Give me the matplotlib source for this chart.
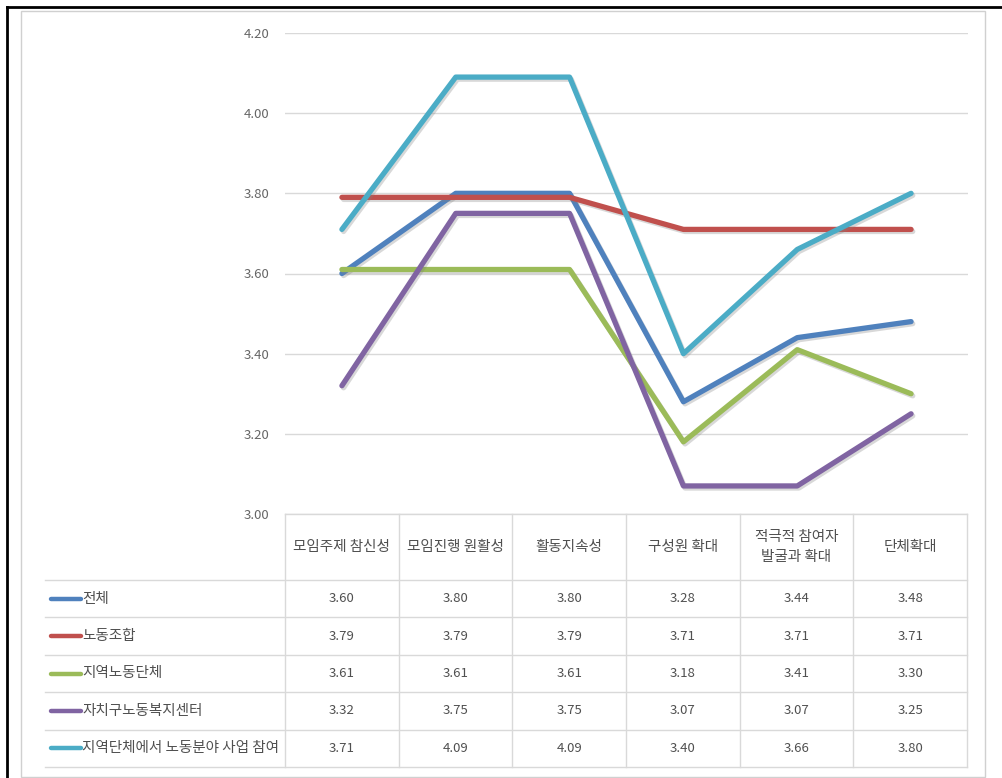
import matplotlib.pyplot as plt
import matplotlib.patheffects as pe

plt.rcParams['font.family'] = ['Noto Sans CJK KR', 'DejaVu Sans']

categories = ["모임주제 참신성", "모임진행 원활성", "활동지속성", "구성원 확대",
              "적극적 참여자\n발굴과 확대", "단체확대"]
series_names = ["전체", "노동조합", "지역노동단체", "자치구노동복지센터",
                "지역단체에서 노동분야 사업 참여"]
total = [3.60, 3.80, 3.80, 3.28, 3.44, 3.48]
union = [3.79, 3.79, 3.79, 3.71, 3.71, 3.71]
local_labor = [3.61, 3.61, 3.61, 3.18, 3.41, 3.30]
welfare_center = [3.32, 3.75, 3.75, 3.07, 3.07, 3.25]
local_groups = [3.71, 4.09, 4.09, 3.40, 3.66, 3.80]
yticks = [3.00, 3.20, 3.40, 3.60, 3.80, 4.00, 4.20]

series = [total, union, local_labor, welfare_center, local_groups]
colors = ["#4F81BD", "#C0504D", "#9BBB59", "#8064A2", "#4BACC6"]

W, H = 1002, 778
fig = plt.figure(figsize=(W / 100, H / 100), dpi=100)

# background layer in pixel coords for frame and data table
bg = fig.add_axes([0, 0, 1, 1])
bg.set_xlim(0, W)
bg.set_ylim(H, 0)
bg.axis("off")

bg.plot([7, 7], [7, H], color="black", lw=2)
bg.plot([7, W], [7, 7], color="black", lw=2)
bg.add_patch(plt.Rectangle((21, 11), 964, 766, fill=False, ec="#D0D0D0", lw=1))

# plot area
px_l, px_r, px_t, px_b = 285, 968, 33, 514
ax = fig.add_axes([px_l / W, (H - px_b) / H, (px_r - px_l) / W, (px_b - px_t) / H])
ax.set_xlim(-0.5, len(categories) - 0.5)
ax.set_ylim(3.0, 4.2)
ax.set_yticks(yticks)
ax.set_yticklabels([f"{v:.2f}" for v in yticks], fontsize=9.5, color="#666666")
ax.set_xticks([])
ax.tick_params(axis="y", length=0, pad=11)
for s in ax.spines.values():
    s.set_visible(False)
ax.grid(axis="y", color="#D9D9D9", lw=1)
ax.set_axisbelow(True)
ax.patch.set_alpha(0)

shadow = [pe.SimpleLineShadow(offset=(1.2, -1.5), shadow_color="gray", alpha=0.3), pe.Normal()]
x = range(len(categories))
for vals, c in zip(series, colors):
    ax.plot(x, vals, color=c, lw=3.8, solid_capstyle="round", solid_joinstyle="round",
            path_effects=shadow, clip_on=False)

# data table
grid_c = "#D9D9D9"
col_w = (px_r - 1 - px_l) / len(categories)
cols = [px_l + i * col_w for i in range(len(categories) + 1)]
head_t, head_b = 514, 580
row_h = (767 - head_b) / len(series)
rows = [head_b + i * row_h for i in range(len(series) + 1)]
tab_l = 45

bg.plot([px_l, cols[-1]], [head_t, head_t], color=grid_c, lw=1)
for r in rows:
    bg.plot([tab_l, cols[-1]], [r, r], color=grid_c, lw=1)
for cx in cols:
    bg.plot([cx, cx], [head_t, rows[-1]], color=grid_c, lw=1)

txt_c = "#505050"
for i, cat in enumerate(categories):
    bg.text((cols[i] + cols[i + 1]) / 2, (head_t + head_b) / 2, cat, ha="center",
            va="center", fontsize=10.5, color=txt_c, linespacing=1.55)

for j, (name, vals, c) in enumerate(zip(series_names, series, colors)):
    yc = (rows[j] + rows[j + 1]) / 2
    bg.plot([51, 81], [yc, yc], color=c, lw=3.2, solid_capstyle="round")
    bg.text(82, yc, name, ha="left", va="center", fontsize=10.5, color=txt_c)
    for i, v in enumerate(vals):
        bg.text((cols[i] + cols[i + 1]) / 2, yc, f"{v:.2f}", ha="center", va="center",
                fontsize=9.5, color=txt_c)

fig.savefig("out.png", dpi=100)
